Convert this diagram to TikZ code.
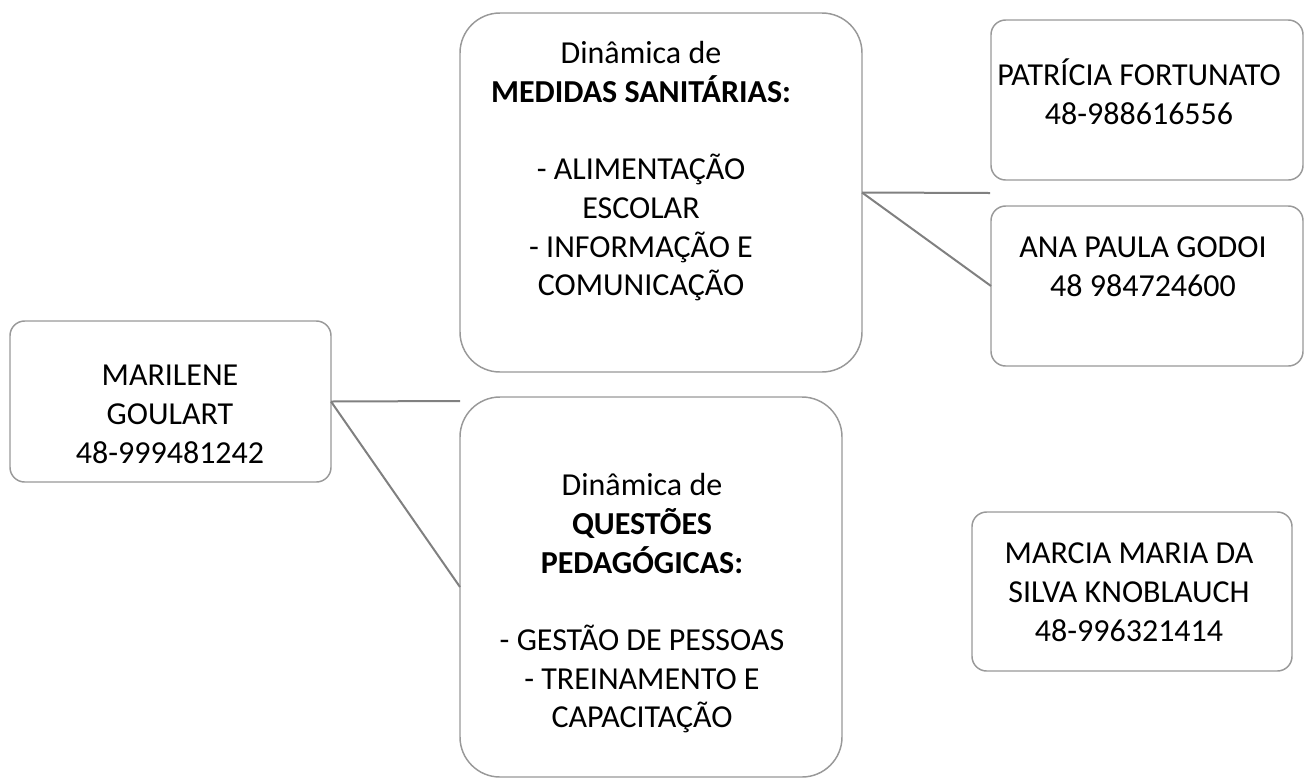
\documentclass[tikz,border=0pt]{standalone}
\usepackage{fontspec}
\setmainfont{Carlito}
\begin{document}
\begin{tikzpicture}[x=0.75pt,y=-0.75pt,
  box/.style={draw=boxgray,line width=1.1pt,fill=white,rectangle,inner sep=0pt,outer sep=0pt},
  bigbox/.style={box,rounded corners=30pt},
  smallbox/.style={box,rounded corners=11pt},
  txt/.style={align=center,anchor=north,inner sep=0pt,font=\fontsize{24}{29}\selectfont,text=black},
  conn/.style={draw=conngray,line width=1.5pt}]
\definecolor{boxgray}{HTML}{999999}
\definecolor{conngray}{HTML}{808080}
\useasboundingbox (0,0) rectangle (1304,783);
% boxes
\node[smallbox,minimum width=240.75pt,minimum height=120.75pt] (mar) at (170.5,401.5) {};
\node[bigbox,minimum width=301.5pt,minimum height=269.25pt] (med) at (661,192.5) {};
\node[bigbox,minimum width=286.5pt,minimum height=285pt] (que) at (651,587) {};
\node[smallbox,minimum width=234pt,minimum height=120pt] (pat) at (1147,100) {};
\node[smallbox,minimum width=234pt,minimum height=120pt] (ana) at (1147,286) {};
\node[smallbox,minimum width=240pt,minimum height=119.25pt] (mcm) at (1132,591.5) {};
% texts
\node[txt] (tmar) at (170,358.5) {\strut MARILENE\\GOULART\\48-999481242};
\node[txt] (tmed) at (641,36.5) {\strut Dinâmica de\\\textbf{MEDIDAS SANITÁRIAS:}\\\mbox{}\\- ALIMENTAÇÃO\\ESCOLAR\\- INFORMAÇÃO E\\COMUNICAÇÃO};
\node[txt] (tque) at (642,468.5) {\strut Dinâmica de\\\textbf{QUESTÕES}\\\textbf{PEDAGÓGICAS:}\\\mbox{}\\- GESTÃO DE PESSOAS\\- TREINAMENTO E\\CAPACITAÇÃO};
\node[txt] (tpat) at (1139,58.5) {\strut PATRÍCIA FORTUNATO\\48-988616556};
\node[txt] (tana) at (1143,230.5) {\strut ANA PAULA GODOI\\48 984724600};
\node[txt] (tmcm) at (1129,536.5) {\strut MARCIA MARIA DA\\SILVA KNOBLAUCH\\48-996321414};
% connectors
\coordinate (m1) at (460,401);
\coordinate (d1) at (990,193);
\draw[conn] (mar.east) -- (m1);
\draw[conn] (mar.east) -- (que.west);
\draw[conn] (med.east) -- (d1);
\draw[conn] (med.east) -- (ana.west);
\end{tikzpicture}
\end{document}
